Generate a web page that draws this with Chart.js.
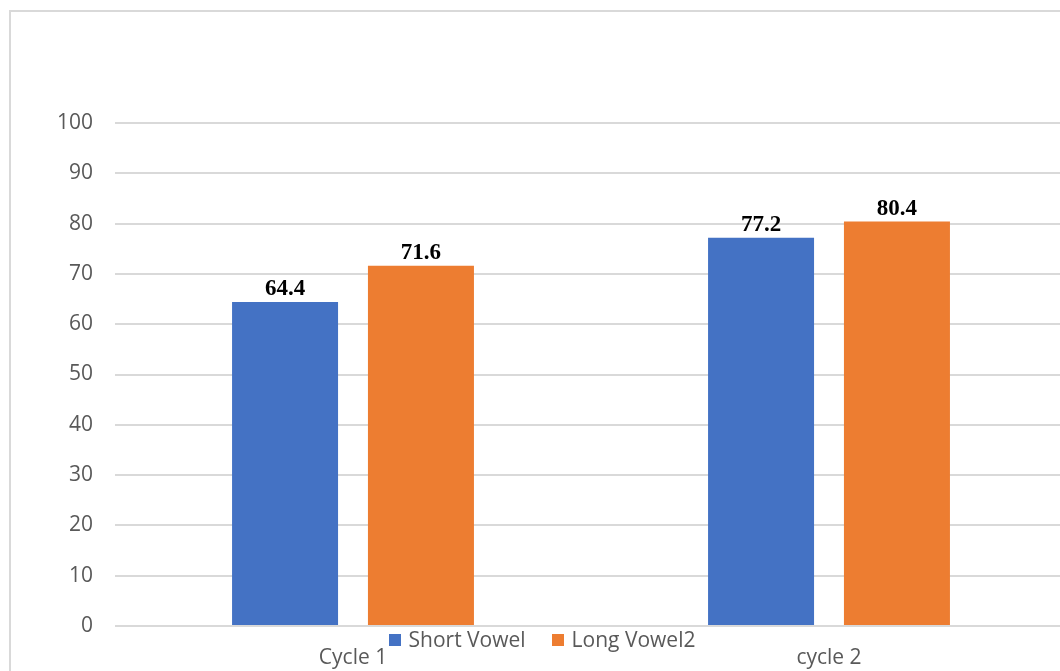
<!DOCTYPE html>
<html>
<head>
<meta charset="utf-8">
<script src="https://cdn.jsdelivr.net/npm/chart.js@4.4.1/dist/chart.umd.min.js"></script>
<style>
  html, body { margin: 0; padding: 0; background: #fff; overflow: hidden; }
  #frame { position: absolute; left: 9px; top: 10px; width: 1100px; height: 700px; border: 2px solid #d9d9d9; box-sizing: border-box; }
  #chart { position: absolute; left: 0; top: 0; }
  #legend { position: absolute; left: 0; width: 1084px; top: 625px; text-align: center; font-family: "Open Sans", sans-serif; font-size: 21px; color: #595959; }
  #legend span.item { display: inline-block; margin: 0 13px; }
  #legend span.box { display: inline-block; width: 12px; height: 12px; margin-right: 8px; vertical-align: 1px; }
</style>
</head>
<body>
<div id="frame"></div>
<canvas id="chart" width="1090" height="700"></canvas>
<div id="legend"></div>
<script>
const categorias = ['Cycle 1', 'cycle 2'];
const shortVowel = [64.4, 77.2];
const longVowel2 = [71.6, 80.4];
const yTicks = [0, 10, 20, 30, 40, 50, 60, 70, 80, 90, 100];

const ctx = document.getElementById('chart').getContext('2d');

// etiquetas encima de cada barra
const etiquetas = {
    id: 'etiquetas',
    afterDatasetsDraw(chart) {
        const c = chart.ctx;
        c.save();
        c.font = 'bold 23px "Liberation Serif", serif';
        c.fillStyle = '#000';
        c.textAlign = 'center';
        c.textBaseline = 'alphabetic';
        chart.data.datasets.forEach((ds, i) => {
            chart.getDatasetMeta(i).data.forEach((bar, j) => {
                c.fillText(ds.data[j].toFixed(1), bar.x, bar.y - 7);
            });
        });
        c.restore();
    }
};

const grafica = new Chart(ctx, {
    type: 'bar',
    data: {
        labels: categorias,
        datasets: [
            { label: 'Short Vowel', data: shortVowel, backgroundColor: '#4472C4' },
            { label: 'Long Vowel2', data: longVowel2, backgroundColor: '#ED7D31' }
        ]
    },
    options: {
        responsive: false,
        animation: false,
        categoryPercentage: 0.571,
        barPercentage: 0.78,
        layout: { padding: { top: 123, right: 23, bottom: 29, left: 0 } },
        plugins: {
            legend: { display: false },
            tooltip: { enabled: false }
        },
        scales: {
            x: {
                grid: { display: false },
                border: { color: '#d9d9d9' },
                ticks: { color: '#595959', font: { family: 'Open Sans', size: 21 }, padding: 11 },
                afterFit(scale) { scale.height = 45; }
            },
            y: {
                min: 0,
                max: 100,
                afterBuildTicks(scale) { scale.ticks = yTicks.map(v => ({ value: v })); },
                grid: { color: '#d9d9d9', lineWidth: 2, drawTicks: false },
                border: { display: false },
                ticks: { color: '#595959', font: { family: 'Open Sans', size: 21 }, padding: 22 },
                afterFit(scale) { scale.width = 115; }
            }
        }
    },
    plugins: [etiquetas]
});

const leyenda = document.getElementById('legend');
grafica.data.datasets.forEach(ds => {
    const item = document.createElement('span');
    item.className = 'item';
    const box = document.createElement('span');
    box.className = 'box';
    box.style.background = ds.backgroundColor;
    item.appendChild(box);
    item.appendChild(document.createTextNode(ds.label));
    leyenda.appendChild(item);
});
</script>
</body>
</html>
